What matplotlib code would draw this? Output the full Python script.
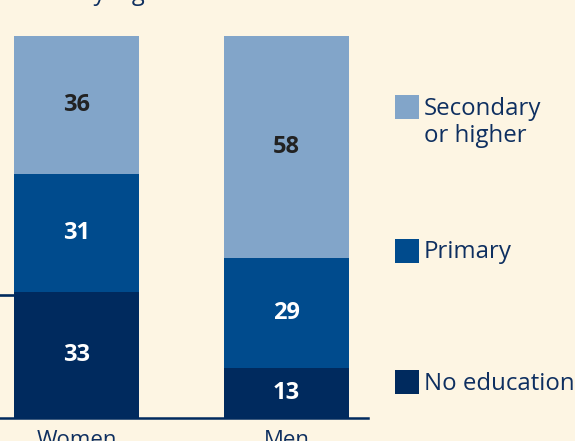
import matplotlib
matplotlib.use("Agg")
import matplotlib.pyplot as plt
from matplotlib.patches import Rectangle
from matplotlib.lines import Line2D

categories = ["Women", "Men"]
levels = ["No education", "Primary", "Secondary\nor higher"]
no_education = [33, 13]
primary = [31, 29]
secondary = [36, 58]
title_text = "by highest level of education attained"

BG = "#FDF5E3"
C_LIGHT = "#82A5C9"
C_MID = "#004B8D"
C_DARK = "#002A5E"
TXT = "#0E2F60"

plt.rcParams['font.family'] = ['Open Sans', 'DejaVu Sans']

W, H = 575, 441
fig = plt.figure(figsize=(W / 100, H / 100), dpi=100, facecolor=BG)

ax_left, ax_right = 0, 368
ax_bottom, ax_top = 418, 36
ax = fig.add_axes([ax_left / W, (H - ax_bottom) / H, (ax_right - ax_left) / W, (ax_bottom - ax_top) / H])
ax.set_facecolor(BG)

spacing = 210.0
x = [0, 1]
width = 125 / spacing
colors = [C_DARK, C_MID, C_LIGHT]
series = [no_education, primary, secondary]
bottoms = [0, 0]
for vals, col in zip(series, colors):
    ax.bar(x, vals, width=width, bottom=bottoms, color=col, edgecolor='none', zorder=2)
    for xi, v, b in zip(x, vals, bottoms):
        tc = "#222222" if col == C_LIGHT else "white"
        ax.text(xi, b + v / 2, str(v), ha='center', va='center', color=tc,
                fontsize=17, fontweight='bold', zorder=3)
    bottoms = [b + v for b, v in zip(bottoms, vals)]

left_px = 76.5
ax.set_xlim(-left_px / spacing, -left_px / spacing + (ax_right - ax_left) / spacing)
ax.set_ylim(0, 100)
for s in ['top', 'right', 'left']:
    ax.spines[s].set_visible(False)
ax.spines['bottom'].set_color(C_DARK)
ax.spines['bottom'].set_linewidth(1.8)
ax.spines['bottom'].set_zorder(4)
ax.set_yticks([])
ax.set_xticks(x)
ax.set_xticklabels(categories, fontsize=16, color=TXT)
ax.tick_params(axis='x', length=0, pad=8.5)

# stray tick on left edge
fig.add_artist(Line2D([0, 14 / W], [(H - 294.7) / H] * 2, color=C_DARK, lw=1.9))

# partially visible title
fig.text(79 / W, 1 + 0.5 / H, title_text, ha='left', va='baseline', fontsize=17, color=TXT)

# legend
leg_items = [(levels[2], C_LIGHT, 95, 115), (levels[1], C_MID, 239, 258), (levels[0], C_DARK, 370, 390)]
for label, col, ytop, base in leg_items:
    fig.add_artist(Rectangle((395 / W, (H - ytop - 23.5) / H), 23.5 / W, 23.5 / H,
                             transform=fig.transFigure, facecolor=col, edgecolor='none'))
    for i, line in enumerate(label.split("\n")):
        fig.text(424 / W, (H - base - i * 26.7) / H, line, ha='left', va='baseline',
                 fontsize=17.3, color=TXT)

fig.savefig("out.png", dpi=100, facecolor=BG)
